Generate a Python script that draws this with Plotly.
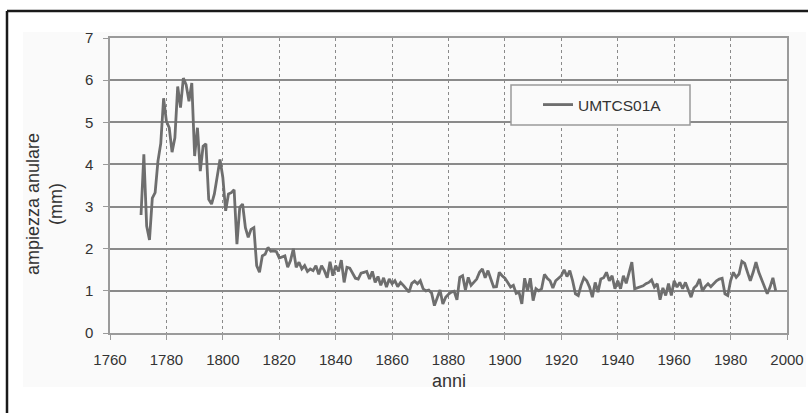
import plotly.graph_objects as go

start_year = 1771
widths = [
    2.8, 4.24, 2.54, 2.21, 3.2, 3.33, 4.08, 4.5, 5.57, 5.02,
    4.87, 4.29, 4.63, 5.85, 5.35, 6.05, 5.89, 5.5, 5.93, 4.2,
    4.87, 3.84, 4.43, 4.49, 3.17, 3.06, 3.3, 3.76, 4.12, 3.69,
    2.9, 3.3, 3.33, 3.4, 2.11, 2.98, 3.06, 2.5, 2.27, 2.46,
    2.5, 1.6, 1.44, 1.83, 1.87, 2.03, 1.94, 1.95, 1.93, 1.78,
    1.81, 1.83, 1.56, 1.72, 2.0, 1.56, 1.68, 1.52, 1.6, 1.46,
    1.52, 1.48, 1.6, 1.39, 1.6, 1.48, 1.31, 1.69, 1.36, 1.6,
    1.46, 1.73, 1.2, 1.56, 1.54, 1.4, 1.3, 1.28, 1.42, 1.44,
    1.46, 1.28, 1.46, 1.2, 1.34, 1.13, 1.31, 1.09, 1.28, 1.17,
    1.24, 1.1, 1.2, 1.13, 1.05, 0.97, 1.18, 1.23, 1.17, 1.24,
    1.05, 1.0, 1.02, 0.95, 0.65, 0.85, 1.02, 0.69, 0.85, 0.92,
    0.97, 0.99, 0.79, 1.32, 1.36, 1.02, 1.32, 1.13, 1.2, 1.28,
    1.44, 1.52, 1.31, 1.48, 1.28, 1.09, 1.1, 1.44, 1.36, 1.3,
    1.2, 1.09, 1.13, 0.94, 0.97, 0.69, 1.3, 1.0, 1.3, 0.77,
    1.05, 1.0, 1.05, 1.39, 1.3, 1.24, 1.07, 1.24, 1.3, 1.36,
    1.5, 1.34, 1.48, 1.24, 0.93, 0.89, 1.13, 1.31, 1.24, 1.09,
    0.85, 1.2, 0.97, 1.28, 1.31, 1.44, 1.24, 1.36, 1.05, 1.24,
    1.05, 1.36, 1.18, 1.4, 1.68, 1.05, 1.07, 1.1, 1.12, 1.17,
    1.2, 1.26, 1.09, 1.17, 0.79, 1.07, 0.89, 1.17, 0.89, 1.24,
    1.09, 1.2, 1.05, 1.2, 1.0, 0.85, 1.07, 1.13, 1.28, 1.0,
    1.1, 1.17, 1.1, 1.17, 1.24, 1.28, 1.3, 0.93, 0.89, 1.24,
    1.44, 1.32, 1.4, 1.7, 1.65, 1.44, 1.24, 1.44, 1.68, 1.44,
    1.28, 1.09, 0.93, 1.09, 1.31, 1.0,
]
years = list(range(start_year, start_year + len(widths)))
series_name = "UMTCS01A"
x_title = "anni"
y_title = "ampiezza anulare<br>(mm)"
x_ticks = [1760, 1780, 1800, 1820, 1840, 1860, 1880, 1900, 1920, 1940, 1960, 1980, 2000]
y_ticks = [0, 1, 2, 3, 4, 5, 6, 7]

W, H = 808, 413
L, R, T, B = 110, 21, 38, 80
pw, ph = W - L - R, H - T - B

def px_x(p):
    return (p - L) / pw

def px_y(p):
    return (H - B - p) / ph

fig = go.Figure()
fig.add_trace(go.Scatter(
    x=years, y=widths, mode="lines", name=series_name,
    line=dict(color="#6e6e6e", width=2.8),
))

grid = "#8a8a8a"
axis_c = "#9a9a9a"
fig.update_layout(
    width=W, height=H,
    margin=dict(l=L, r=R, t=T, b=B, autoexpand=False),
    paper_bgcolor="white",
    plot_bgcolor="#fafafa",
    font=dict(family="Liberation Sans, Arial, sans-serif", size=15, color="#333333"),
    showlegend=True,
    legend=dict(
        x=px_x(538), y=px_y(105), xanchor="left", yanchor="middle",
        bgcolor="rgba(0,0,0,0)", borderwidth=0,
        font=dict(size=15.5, color="#333333"),
        itemwidth=30,
    ),
    xaxis=dict(
        range=[1760, 2000], tickvals=x_ticks, ticktext=[str(v) for v in x_ticks],
        showgrid=True, gridcolor=grid, griddash="dot", gridwidth=1,
        showline=True, linecolor=axis_c, linewidth=1.5, mirror=True,
        ticks="outside", ticklen=5, tickcolor=axis_c,
        ticklabelstandoff=7, automargin=False,
        zeroline=False,
    ),
    yaxis=dict(
        range=[0, 7], tickvals=y_ticks,
        showgrid=True, gridcolor=grid, gridwidth=1.5,
        showline=True, linecolor=axis_c, linewidth=1.5, mirror=True,
        ticks="outside", ticklen=5, tickcolor=axis_c,
        ticklabelstandoff=7, automargin=False,
        zeroline=False,
    ),
    shapes=[
        dict(type="rect", xref="paper", yref="paper", layer="below",
             x0=px_x(23), x1=px_x(806), y0=px_y(387), y1=px_y(32),
             fillcolor="#fafafa", line=dict(width=0)),
        dict(type="line", xref="paper", yref="paper",
             x0=px_x(7), x1=px_x(7), y0=px_y(11), y1=px_y(420),
             line=dict(color="#1a1a1a", width=2.5)),
        dict(type="line", xref="paper", yref="paper",
             x0=px_x(7), x1=px_x(815), y0=px_y(11), y1=px_y(11),
             line=dict(color="#1a1a1a", width=2.5)),
        dict(type="rect", xref="paper", yref="paper", layer="above",
             x0=px_x(511), x1=px_x(690), y0=px_y(125), y1=px_y(85),
             fillcolor="#fafafa", line=dict(color="#9a9a9a", width=1.5)),
    ],
    annotations=[
        dict(text=y_title, xref="paper", yref="paper", x=px_x(44), y=px_y(204),
             showarrow=False, textangle=-90, font=dict(size=18, color="#333333"),
             xanchor="center", yanchor="middle"),
        dict(text=x_title, xref="paper", yref="paper", x=px_x(449), y=px_y(381),
             showarrow=False, font=dict(size=18, color="#333333"),
             xanchor="center", yanchor="middle"),
    ],
)

fig.write_html(
    "out.html",
    config={"displayModeBar": False},
    post_script=(
        "document.documentElement.style.overflow='hidden';"
        "document.body.style.overflow='hidden';"
        "document.body.style.margin='0';"
    ),
)
